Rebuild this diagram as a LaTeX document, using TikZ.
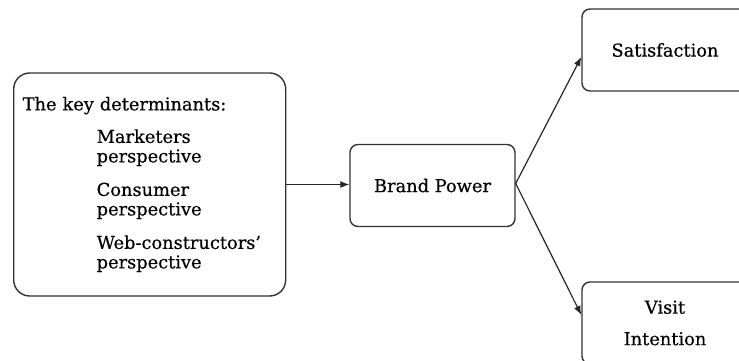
\documentclass[tikz,border=0pt]{standalone}
\usepackage{fontspec}
\setmainfont[FakeBold=0.4]{DejaVu Serif}
\usetikzlibrary{arrows.meta}
\begin{document}
\begin{tikzpicture}[x=1pt, y=-1pt,
                box/.style = {draw=black!80, line width=1.4pt, rounded corners=8pt,
                              fill=white, inner sep=0pt, align=center,
                              minimum width=166pt, minimum height=82pt},
                link/.style = {draw=black!85, line width=1.2pt,
                               -{Latex[length=9pt,width=7pt]}},
                every node/.style = {font=\fontsize{17.8}{19.5}\selectfont}
            ]
            \useasboundingbox (0,0) rectangle (739,360);
            % determinants on the left
            \node[box, rounded corners=16pt, anchor=west, align=left,
                  text width=254pt, inner xsep=9pt, minimum height=223pt] (det) at (13,184.5)
                  {The key determinants:\\[13pt]
                   \hspace*{74pt}Marketers\\
                   \hspace*{74pt}perspective\\[14pt]
                   \hspace*{74pt}Consumer\\
                   \hspace*{74pt}perspective\\[14pt]
                   \hspace*{74pt}Web-constructors'\\
                   \hspace*{74pt}perspective};
            \node[box, minimum width=165pt] (bp) at (432.5,185.5) {Brand Power};
            \node[box] (sat) at (665,50) {Satisfaction};
            \node[box] (visit) at (665,323) {Visit\\[12pt]Intention};
            % links
            \draw[link] (det.east) -- (det.east -| bp.west);
            \draw[link] ([yshift=2pt]bp.east) -- ([yshift=-7pt]sat.west);
            \draw[link] ([yshift=2pt]bp.east) -- ([yshift=8pt]visit.west);
        \end{tikzpicture}
\end{document}
